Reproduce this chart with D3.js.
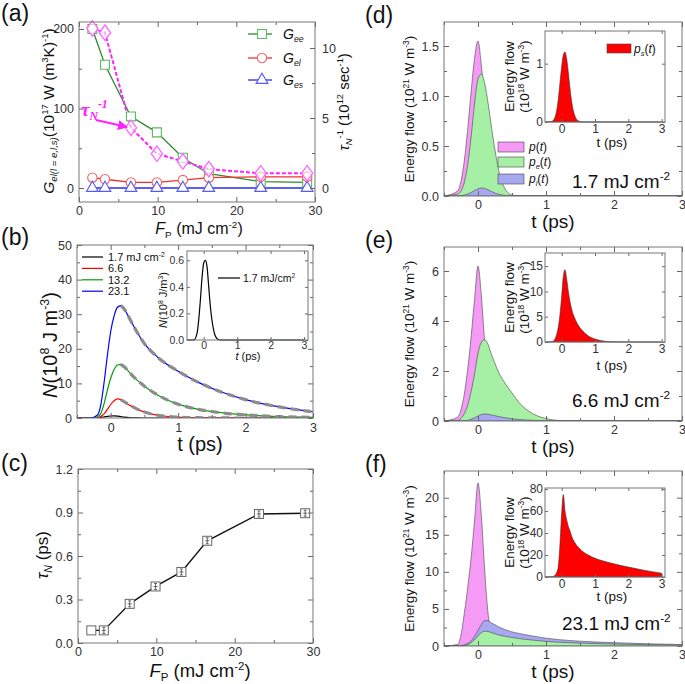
<!DOCTYPE html>
<html>
<head>
<meta charset="utf-8">
<script src="https://cdn.jsdelivr.net/npm/d3@7"></script>
<style>
  body { margin: 0; background: #fff; }
  svg { font-family: "Liberation Sans", Arial, sans-serif; }
</style>
</head>
<body>
<script>
// fluences (a) and (c)
var fluence = [1.7, 3.3, 6.6, 9.9, 13.2, 16.5, 23.1, 29.0];
var Gee = [200, 155, 90, 70, 38, 18, 8, 7];
var Gel = [13, 11, 7, 7, 10, 13, 14, 14];
var Ges = [0, 0, 0, 0, 0, 0, 0, 0];
var tauInv = [11.4, 11.1, 4.3, 2.45, 1.9, 1.35, 1.05, 1.05];
var tauN = [0.087, 0.087, 0.27, 0.39, 0.49, 0.705, 0.89, 0.895];

// panel (b)
var tb = [-0.5, -0.3, -0.2, -0.15, -0.1, -0.05, 0, 0.05, 0.1, 0.15, 0.2, 0.3, 0.4, 0.5, 0.7, 1.0, 1.3, 1.6, 2.0, 2.5, 3.0];
var N231 = [0, 0, 0.8, 3.5, 10, 18, 25, 29.5, 32, 32.5, 31.5, 28, 24.5, 21.5, 17.5, 13.5, 10.3, 7.8, 5.3, 3.2, 1.8];
var N132 = [0, 0, 0.3, 1.2, 4, 8, 11.5, 14, 15.3, 15.5, 14.8, 12.7, 10.8, 9.2, 6.6, 4.0, 2.5, 1.6, 0.9, 0.4, 0.2];
var N66 = [0, 0, 0.1, 0.4, 1.2, 2.5, 3.9, 5.0, 5.5, 5.3, 4.7, 3.5, 2.5, 1.7, 0.8, 0.25, 0.08, 0.03, 0, 0, 0];
var N17 = [0, 0, 0.05, 0.15, 0.3, 0.47, 0.58, 0.6, 0.55, 0.4, 0.25, 0.07, 0.01, 0, 0, 0, 0, 0, 0, 0, 0];
var bLabels = ["1.7 mJ cm", "6.6", "13.2", "23.1"];

// panels (d)-(f)
var tE = [-0.5, -0.3, -0.25, -0.2, -0.15, -0.1, -0.05, 0, 0.05, 0.1, 0.15, 0.2, 0.25, 0.3, 0.4, 0.5, 0.6, 0.8, 1.0, 1.2, 1.5, 2.0, 2.5, 3.0];
var dP  = [0, 0.05, 0.15, 0.36, 0.68, 1.05, 1.38, 1.55, 1.3, 0.95, 0.62, 0.36, 0.18, 0.08, 0.01, 0, 0, 0, 0, 0, 0, 0, 0, 0];
var dPe = [0, 0.02, 0.05, 0.14, 0.32, 0.6, 0.93, 1.17, 1.22, 1.12, 0.92, 0.68, 0.46, 0.27, 0.07, 0.01, 0, 0, 0, 0, 0, 0, 0, 0];
var dPl = [0, 0, 0.003, 0.01, 0.02, 0.035, 0.055, 0.072, 0.08, 0.075, 0.062, 0.045, 0.03, 0.018, 0.006, 0.001, 0, 0, 0, 0, 0, 0, 0, 0];
var dPs = [0, 0.01, 0.03, 0.08, 0.2, 0.4, 0.68, 0.95, 1.15, 1.2, 1.08, 0.85, 0.58, 0.35, 0.1, 0.02, 0, 0, 0, 0, 0, 0, 0, 0];
var eP  = [0, 0.15, 0.45, 1.1, 2.1, 3.4, 4.9, 6.2, 5.0, 3.1, 1.8, 1.0, 0.5, 0.2, 0.02, 0, 0, 0, 0, 0, 0, 0, 0, 0];
var ePe = [0, 0.02, 0.1, 0.3, 0.65, 1.2, 1.9, 2.7, 3.15, 3.25, 3.05, 2.65, 2.3, 1.97, 1.5, 1.12, 0.75, 0.3, 0.1, 0.02, 0, 0, 0, 0];
var ePl = [0, 0, 0, 0.01, 0.03, 0.07, 0.13, 0.2, 0.26, 0.28, 0.27, 0.24, 0.21, 0.18, 0.13, 0.09, 0.06, 0.03, 0.01, 0, 0, 0, 0, 0];
var ePs = [0, 0.05, 0.2, 0.6, 1.5, 3.0, 5.5, 9.0, 13.0, 14.3, 12.5, 10.0, 8.0, 6.5, 4.6, 3.3, 2.4, 1.2, 0.6, 0.25, 0.05, 0, 0, 0];
var fP  = [0, 0.2, 1.5, 4.5, 8, 12, 17, 22, 17.5, 10, 4.2, 2.0, 1.0, 0.5, 0.1, 0, 0, 0, 0, 0, 0, 0, 0, 0];
var fPe = [0, 0, 0.02, 0.08, 0.2, 0.45, 0.85, 1.35, 1.8, 2.0, 1.95, 1.8, 1.65, 1.5, 1.3, 1.15, 1.0, 0.8, 0.62, 0.5, 0.38, 0.26, 0.17, 0.12];
var fPl = [0, 0, 0.05, 0.15, 0.35, 0.7, 1.3, 2.1, 2.9, 3.45, 3.4, 3.1, 2.85, 2.6, 2.2, 1.9, 1.7, 1.35, 1.05, 0.85, 0.65, 0.45, 0.3, 0.2];
var fPs = [0, 0.3, 0.5, 1.5, 4, 10, 30, 58, 75, 60, 52, 46, 42, 37, 31, 27, 24, 20, 17, 15, 12.5, 9, 6, 3.5];

var svg = d3.select("body").append("svg").attr("width", 685).attr("height", 684);
var C_PINK = "#f59af5", C_GREEN = "#a6f0a6", C_BLUE = "#a8a8f2";

// text with sub / superscripts
function rich(g, x, y, parts, fs, opt) {
  opt = opt || {};
  var t = g.append("text").attr("x", x).attr("y", y).attr("font-size", fs)
    .attr("text-anchor", opt.anchor || "middle").attr("fill", opt.fill || "#111");
  if (opt.rot) t.attr("transform", "rotate(" + opt.rot + "," + x + "," + y + ")");
  if (opt.family) t.attr("font-family", opt.family);
  if (opt.weight) t.attr("font-weight", opt.weight);
  var cur = 0;
  parts.forEach(function (p) {
    var k = p[1] || "", size = fs, off = 0;
    if (k.indexOf("sup") >= 0) { size = fs * 0.62; off = -fs * 0.4; }
    if (k.indexOf("sub") >= 0) { size = fs * 0.62; off = fs * 0.22; }
    var ts = t.append("tspan").text(p[0]).attr("font-size", size).attr("dy", off - cur);
    if (k[0] === "i") ts.attr("font-style", "italic");
    cur = off;
  });
  return t;
}

function frame(fr, xd, yd) {
  var x = d3.scaleLinear().domain(xd).range([fr.x0, fr.x1]);
  var y = d3.scaleLinear().domain(yd).range([fr.y1, fr.y0]);
  return { x: x, y: y, fr: fr };
}

function axes(p, o) {
  var fr = p.fr, g = svg.append("g");
  var fs = o.fs || 12, big = o.big || 5, sm = o.sm || 3;
  function add(axis, tr) {
    var a = g.append("g").attr("transform", tr).call(axis);
    a.select(".domain").remove();
    a.selectAll("line").attr("stroke", "#666");
    a.selectAll("text").attr("font-size", fs).attr("fill", "#333")
      .attr("font-family", "Liberation Sans, Arial, sans-serif");
    return a;
  }
  add(d3.axisBottom(p.x).tickValues(o.xt).tickSizeInner(-big).tickSizeOuter(0).tickPadding(o.xpad || 5).tickFormat(o.xf || d3.format("")), "translate(0," + fr.y1 + ")");
  add(d3.axisBottom(p.x).tickValues(o.xm).tickSize(-sm).tickFormat(""), "translate(0," + fr.y1 + ")");
  add(d3.axisTop(p.x).tickValues(o.xt).tickSize(-big).tickFormat(""), "translate(0," + fr.y0 + ")");
  add(d3.axisTop(p.x).tickValues(o.xm).tickSize(-sm).tickFormat(""), "translate(0," + fr.y0 + ")");
  add(d3.axisLeft(p.y).tickValues(o.yt).tickSizeInner(-big).tickSizeOuter(0).tickPadding(o.ypad || 5).tickFormat(o.yf || d3.format("")), "translate(" + fr.x0 + ",0)");
  add(d3.axisLeft(p.y).tickValues(o.ym).tickSize(-sm).tickFormat(""), "translate(" + fr.x0 + ",0)");
  if (!o.noRight) {
    add(d3.axisRight(p.y).tickValues(o.yt).tickSize(-big).tickFormat(""), "translate(" + fr.x1 + ",0)");
    add(d3.axisRight(p.y).tickValues(o.ym).tickSize(-sm).tickFormat(""), "translate(" + fr.x1 + ",0)");
  }
  g.append("rect").attr("x", fr.x0).attr("y", fr.y0).attr("width", fr.x1 - fr.x0)
    .attr("height", fr.y1 - fr.y0).attr("fill", "none").attr("stroke", "#777").attr("stroke-width", 1);
  return g;
}

function clipFor(id, fr) {
  svg.append("clipPath").attr("id", id).append("rect")
    .attr("x", fr.x0).attr("y", fr.y0).attr("width", fr.x1 - fr.x0).attr("height", fr.y1 - fr.y0);
  return "url(#" + id + ")";
}

// ---------------- (a) ----------------
var A = frame({ x0: 79, x1: 315, y0: 22, y1: 202 }, [0, 30], [-17.6, 208.8]);
var yR = d3.scaleLinear().domain([-1, 11.86]).range([202, 22]);
var gA = svg.append("g");
var lineA = d3.line().x(function (d) { return A.x(d[0]); }).y(function (d) { return A.y(d[1]); });
var seriesA = [
  { v: Gee, line: "#2e8b2e", mk: "#5cb85c", shape: d3.symbolSquare, size: 80 },
  { v: Gel, line: "#f03030", mk: "#f06666", shape: d3.symbolCircle, size: 70 },
  { v: Ges, line: "#2a2af0", mk: "#5a5af5", shape: d3.symbolTriangle, size: 60 }
];
seriesA.forEach(function (s) {
  gA.append("path").datum(d3.zip(fluence, s.v)).attr("d", lineA)
    .attr("fill", "none").attr("stroke", s.line).attr("stroke-width", 1.3);
});
// tau_N^-1 on right axis
var lineR = d3.line().x(function (d) { return A.x(d[0]); }).y(function (d) { return yR(d[1]); });
gA.append("path").datum(d3.zip(fluence, tauInv)).attr("d", lineR)
  .attr("fill", "none").attr("stroke", "#ff22ff").attr("stroke-width", 2).attr("stroke-dasharray", "4,2");
seriesA.forEach(function (s) {
  gA.selectAll(null).data(d3.zip(fluence, s.v)).enter().append("path")
    .attr("d", d3.symbol().type(s.shape).size(s.size))
    .attr("transform", function (d) { return "translate(" + A.x(d[0]) + "," + A.y(d[1]) + ")"; })
    .attr("fill", "#fff").attr("stroke", s.mk).attr("stroke-width", 1.1);
});
gA.selectAll(null).data(d3.zip(fluence, tauInv)).enter().append("path")
  .attr("d", d3.symbol().type(d3.symbolDiamond).size(70))
  .attr("transform", function (d) { return "translate(" + A.x(d[0]) + "," + yR(d[1]) + ") scale(1.25,1)"; })
  .attr("fill", "#fff").attr("fill-opacity", 0.6).attr("stroke", "#ff66ff").attr("stroke-width", 1.1);

axes(A, { xt: [0, 10, 20, 30], xm: [5, 15, 25], yt: [0, 100, 200], ym: [50, 150], noRight: true, fs: 12.5, xpad: 4 });
(function () {
  var a = svg.append("g").attr("transform", "translate(315,0)")
    .call(d3.axisRight(yR).tickValues([0, 5, 10]).tickSizeInner(-5).tickSizeOuter(0).tickPadding(7));
  var b = svg.append("g").attr("transform", "translate(315,0)")
    .call(d3.axisRight(yR).tickValues([2.5, 7.5]).tickSize(-3).tickFormat(""));
  [a, b].forEach(function (s) {
    s.select(".domain").remove();
    s.selectAll("line").attr("stroke", "#666");
    s.selectAll("text").attr("font-size", 12.5).attr("fill", "#333").attr("font-family", "Liberation Sans, Arial, sans-serif");
  });
})();

// legend (a)
var legA = [["ee", 34], ["el", 58], ["es", 80]];
legA.forEach(function (l, i) {
  var s = seriesA[i];
  svg.append("line").attr("x1", 248).attr("x2", 272).attr("y1", l[1]).attr("y2", l[1])
    .attr("stroke", s.line).attr("stroke-width", 1.3);
  svg.append("path").attr("d", d3.symbol().type(s.shape).size(s.size))
    .attr("transform", "translate(262," + l[1] + ")").attr("fill", "#fff").attr("stroke", s.mk).attr("stroke-width", 1.1);
  rich(svg, 283, l[1] + 5, [["G", "i"], [l[0], "isub"]], 14, { anchor: "start" });
});

// tau label and arrow
svg.append("defs").append("marker").attr("id", "arr").attr("viewBox", "0 0 10 10")
  .attr("refX", 9).attr("refY", 5).attr("markerWidth", 5).attr("markerHeight", 5).attr("orient", "auto")
  .append("path").attr("d", "M0,0L10,5L0,10z").attr("fill", "#ff22ff");
rich(svg, 81, 116, [["τ", "i"], ["N", "isub"], ["-1", "isup"]], 19,
  { anchor: "start", fill: "#ff22ff", family: "Liberation Serif, serif", weight: "bold" });
svg.append("line").attr("x1", 96).attr("y1", 120).attr("x2", 127).attr("y2", 127)
  .attr("stroke", "#ff22ff").attr("stroke-width", 2).attr("marker-end", "url(#arr)");

rich(svg, 54, 111, [["G", "i"], ["el(l = e,l,s)", "isub"], ["(10"], ["17", "sup"], [" W (m"], ["3", "sup"], ["K)"], ["-1", "sup"], [")"]], 15.5, { rot: -90 });
rich(svg, 349, 102, [["τ", "i"], ["N", "isub"], ["-1", "sup"], [" (10"], ["12", "sup"], [" sec"], ["-1", "sup"], [")"]], 15, { rot: -90 });
rich(svg, 199, 234, [["F", "i"], ["P", "sub"], [" (mJ cm"], ["-2", "sup"], [")"]], 16);

// ---------------- (b) ----------------
var B = frame({ x0: 77, x1: 313, y0: 245, y1: 418 }, [-0.5, 3], [0, 50]);
var lineB = d3.line().curve(d3.curveMonotoneX).x(function (d) { return B.x(d[0]); }).y(function (d) { return B.y(d[1]); });
var gB = svg.append("g").attr("clip-path", clipFor("cb", B.fr));
var seriesB = [
  { v: N17, c: "#000" }, { v: N66, c: "#ff0000" }, { v: N132, c: "#00a000" }, { v: N231, c: "#0000ff" }
];
seriesB.forEach(function (s) {
  gB.append("path").datum(d3.zip(tb, s.v)).attr("d", lineB)
    .attr("fill", "none").attr("stroke", s.c).attr("stroke-width", 1.2);
});
seriesB.slice(1).forEach(function (s) {
  gB.append("path").datum(d3.zip(tb, s.v).filter(function (d) { return d[0] >= 0.12; })).attr("d", lineB)
    .attr("fill", "none").attr("stroke", "#8c8c8c").attr("stroke-width", 3.2).attr("stroke-dasharray", "8,5");
});
axes(B, { xt: [0, 1, 2, 3], xm: [-0.5, 0.5, 1.5, 2.5], yt: [0, 10, 20, 30, 40, 50], ym: [5, 15, 25, 35, 45], fs: 12.5 });
seriesB.forEach(function (s, i) {
  var yy = 257 + i * 11.4;
  svg.append("line").attr("x1", 82).attr("x2", 103).attr("y1", yy).attr("y2", yy).attr("stroke", s.c).attr("stroke-width", 1.2);
  var parts = [[bLabels[i]]];
  if (i === 0) parts.push(["-2", "sup"]);
  rich(svg, 108, yy + 4, parts, 11, { anchor: "start" });
});
rich(svg, 57, 345, [["N", "i"], ["(10"], ["8", "sup"], [" J m"], ["-3", "sup"], [")"]], 20, { rot: -90 });
rich(svg, 200, 451, [["t (ps)"]], 20);

// inset (b)
var Bi = frame({ x0: 187, x1: 308, y0: 251, y1: 340 }, [-0.5, 3.12], [0, 0.67]);
svg.append("rect").attr("x", 187).attr("y", 251).attr("width", 121).attr("height", 89).attr("fill", "#fff");
svg.append("path").datum(d3.zip(tb, N17))
  .attr("d", d3.line().curve(d3.curveMonotoneX).x(function (d) { return Bi.x(d[0]); }).y(function (d) { return Bi.y(d[1]); }))
  .attr("fill", "none").attr("stroke", "#000").attr("stroke-width", 1.2);
axes(Bi, { xt: [0, 1, 2, 3], xm: [], yt: [0, 0.2, 0.4, 0.6], ym: [], yf: d3.format(".1f"), fs: 10.5, big: 3, xpad: 2, ypad: 3 });
svg.append("line").attr("x1", 218).attr("x2", 240).attr("y1", 278).attr("y2", 278).attr("stroke", "#000").attr("stroke-width", 1.2);
rich(svg, 243, 282, [["1.7 mJ/cm"], ["2", "sup"]], 10.5, { anchor: "start" });
rich(svg, 167, 300, [["N", "i"], ["(10"], ["8", "sup"], [" J/m"], ["3", "sup"], [")"]], 11, { rot: -90 });
rich(svg, 248, 360, [["t", "i"], [" (ps)"]], 11);

// ---------------- (c) ----------------
var Cp = frame({ x0: 78, x1: 313, y0: 469, y1: 643 }, [0, 30], [0, 1.2]);
svg.append("path").datum(d3.zip(fluence, tauN))
  .attr("d", d3.line().x(function (d) { return Cp.x(d[0]); }).y(function (d) { return Cp.y(d[1]); }))
  .attr("fill", "none").attr("stroke", "#111").attr("stroke-width", 1.4);
var mC = svg.selectAll(null).data(d3.zip(fluence, tauN)).enter().append("g")
  .attr("transform", function (d) { return "translate(" + Cp.x(d[0]) + "," + Cp.y(d[1]) + ")"; });
mC.append("rect").attr("x", -4.5).attr("y", -4.5).attr("width", 9).attr("height", 9)
  .attr("fill", "#fff").attr("stroke", "#666").attr("stroke-width", 1);
mC.filter(function (d, i) { return i > 0; }).append("path").attr("d", "M0,-3V3M-1.5,-3H1.5M-1.5,3H1.5M-2,0H2")
  .attr("stroke", "#444").attr("stroke-width", 0.8).attr("fill", "none");
axes(Cp, { xt: [0, 10, 20, 30], xm: [5, 15, 25], yt: [0, 0.3, 0.6, 0.9, 1.2], ym: [0.15, 0.45, 0.75, 1.05], yf: d3.format(".1f"), fs: 12.5, xpad: 4 });
rich(svg, 48, 555, [["τ", "i"], ["N", "isub"], [" (ps)"]], 17, { rot: -90 });
rich(svg, 200, 677, [["F", "i"], ["P", "sub"], [" (mJ cm"], ["-2", "sup"], [")"]], 18.5);

// ---------------- (d)-(f) ----------------
var panels = [
  { fr: { x0: 444, x1: 682, y0: 22, y1: 196 }, ymax: 1.74, yt: [0, 0.5, 1.0, 1.5], ym: [0.25, 0.75, 1.25], yf: d3.format(".1f"),
    series: [[dP, C_PINK], [dPe, C_GREEN], [dPl, C_BLUE]], ps: dPs,
    inset: { y0: 31, y1: 122, ymax: 1.56, yt: [0, 1], xlab: 147 }, flu: "1.7 mJ cm", fx: 572, fy: 188, lab: "(d)" },
  { fr: { x0: 444, x1: 682, y0: 247, y1: 421 }, ymax: 6.96, yt: [0, 2, 4, 6], ym: [1, 3, 5],
    series: [[eP, C_PINK], [ePe, C_GREEN], [ePl, C_BLUE]], ps: ePs,
    inset: { y0: 253, y1: 342, ymax: 17.6, yt: [0, 5, 10, 15], xlab: 370 }, flu: "6.6 mJ cm", fx: 572, fy: 407, lab: "(e)" },
  { fr: { x0: 444, x1: 682, y0: 471, y1: 646 }, ymax: 23.6, yt: [0, 5, 10, 15, 20], ym: [2.5, 7.5, 12.5, 17.5],
    series: [[fP, C_PINK], [fPl, C_BLUE], [fPe, C_GREEN]], ps: fPs,
    inset: { y0: 488, y1: 577, ymax: 81, yt: [0, 20, 40, 60, 80], xlab: 601 }, flu: "23.1 mJ cm", fx: 562, fy: 630, lab: "(f)" }
];
panels.forEach(function (P, k) {
  var M = frame(P.fr, [-0.5, 3], [0, P.ymax]);
  var area = d3.area().curve(d3.curveMonotoneX).x(function (d) { return M.x(d[0]); })
    .y0(M.y(0)).y1(function (d) { return M.y(d[1]); });
  var g = svg.append("g").attr("clip-path", clipFor("cm" + k, P.fr));
  P.series.forEach(function (s) {
    g.append("path").datum(d3.zip(tE, s[0])).attr("d", area)
      .attr("fill", s[1]).attr("stroke", "#444").attr("stroke-width", 0.6);
  });
  axes(M, { xt: [0, 1, 2, 3], xm: [-0.5, 0.5, 1.5, 2.5], yt: P.yt, ym: P.ym, yf: P.yf, fs: 12.5, xpad: 4 });
  var cy = (P.fr.y0 + P.fr.y1) / 2;
  rich(svg, 414, cy, [["Energy flow (10"], ["21", "sup"], [" W m"], ["-3", "sup"], [")"]], 13.5, { rot: -90 });
  rich(svg, 553, P.fr.y1 + 32, [["t (ps)"]], 19);
  rich(svg, P.fx, P.fy, [[P.flu], ["-2", "sup"]], 19, { anchor: "start" });
  svg.append("text").attr("x", 365).attr("y", P.fr.y0 + 1).attr("font-size", 23).attr("fill", "#111").text(P.lab);

  // inset
  var I = P.inset;
  var ifr = { x0: 545, x1: 665, y0: I.y0, y1: I.y1 };
  var Mi = frame(ifr, [-0.5, 3.1], [0, I.ymax]);
  svg.append("rect").attr("x", ifr.x0).attr("y", ifr.y0).attr("width", ifr.x1 - ifr.x0).attr("height", ifr.y1 - ifr.y0).attr("fill", "#fff");
  svg.append("path").datum(d3.zip(tE, P.ps))
    .attr("d", d3.area().curve(d3.curveMonotoneX).x(function (d) { return Mi.x(d[0]); }).y0(Mi.y(0)).y1(function (d) { return Mi.y(d[1]); }))
    .attr("fill", "#ff0000").attr("stroke", "#333").attr("stroke-width", 0.6);
  axes(Mi, { xt: [0, 1, 2, 3], xm: [], yt: I.yt, ym: [], fs: 12, big: 3, xpad: 2, ypad: 2 });
  var icy = (ifr.y0 + ifr.y1) / 2;
  rich(svg, 514, icy, [["Energy flow"]], 13.5, { rot: -90 });
  rich(svg, 529, icy, [["(10"], ["18", "sup"], [" W m"], ["-3", "sup"], [")"]], 13.5, { rot: -90 });
  rich(svg, 612, I.xlab, [["t (ps)"]], 13.5);
});

// legends (d)
var legD = [[C_PINK, ""], [C_GREEN, "e"], [C_BLUE, "l"]];
legD.forEach(function (l, i) {
  var yy = [147, 162, 179][i];
  svg.append("rect").attr("x", 498).attr("y", yy - 5).attr("width", 26).attr("height", 10)
    .attr("fill", l[0]).attr("stroke", "#444").attr("stroke-width", 0.6);
  var parts = [["p", "i"]];
  if (l[1]) parts.push([l[1], "isub"]);
  parts.push(["(", ""], ["t", "i"], [")", ""]);
  rich(svg, 529, yy + 4, parts, 12, { anchor: "start" });
});
svg.append("rect").attr("x", 607).attr("y", 44).attr("width", 24).attr("height", 9)
  .attr("fill", "#ff0000").attr("stroke", "#444").attr("stroke-width", 0.6);
rich(svg, 634, 53, [["p", "i"], ["s", "isub"], ["(", ""], ["t", "i"], [")", ""]], 12, { anchor: "start" });

// panel labels (a)-(c)
svg.append("text").attr("x", 1).attr("y", 21).attr("font-size", 23).attr("fill", "#111").text("(a)");
svg.append("text").attr("x", 1).attr("y", 245).attr("font-size", 23).attr("fill", "#111").text("(b)");
svg.append("text").attr("x", 1).attr("y", 471).attr("font-size", 23).attr("fill", "#111").text("(c)");
</script>
</body>
</html>
